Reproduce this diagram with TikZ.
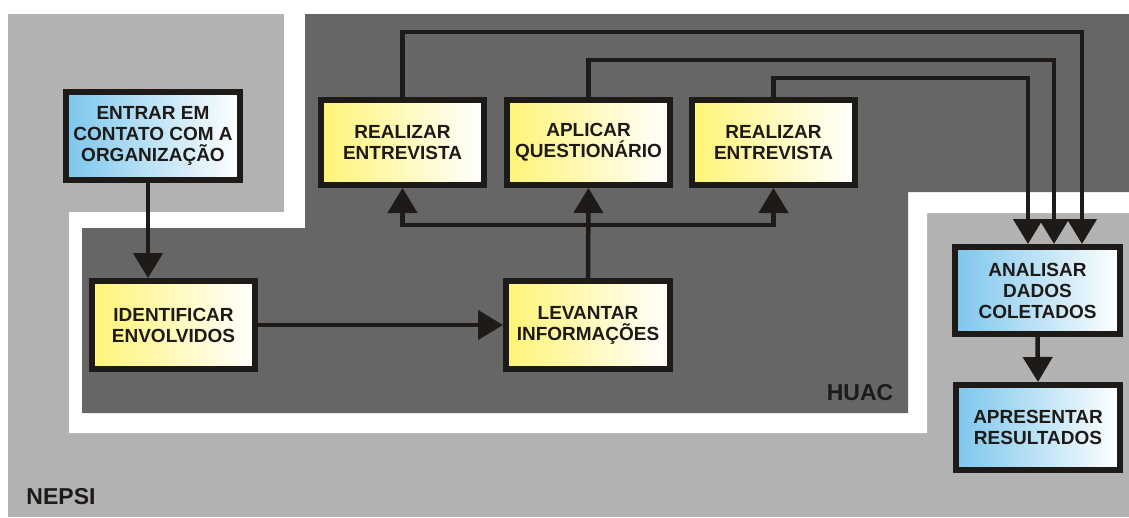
\documentclass[tikz,border=0pt]{standalone}
\usepackage{fontspec}
\setmainfont{Liberation Sans}
\usetikzlibrary{arrows.meta}

\definecolor{ink}{HTML}{1E1A18}
\definecolor{outerzone}{HTML}{B2B2B2}
\definecolor{innerzone}{HTML}{666666}
\definecolor{yel}{HTML}{FFF476}
\definecolor{blu}{HTML}{7CC6EC}

\newcommand{\boxfont}{\fontsize{19}{21}\selectfont\bfseries}
\newcommand{\zonefont}{\fontsize{23}{25}\selectfont\bfseries}

\tikzset{
  box/.style={draw=ink, line width=6pt, minimum width=163pt, minimum height=86pt,
    align=center, inner sep=0pt, font=\boxfont, text=ink},
  ybox/.style={box, left color=yel, right color=white},
  bbox/.style={box, left color=blu, right color=white},
  link/.style={draw=ink, line width=4.5pt, line join=miter},
  arr/.style={link, -{Triangle[length=25pt,width=29pt]}},
  zonelabel/.style={font=\zonefont, text=ink, inner sep=0pt},
}

\begin{document}
\begin{tikzpicture}[x=1pt,y=-1pt]
  \useasboundingbox (0,0) rectangle (1129,517);
  \fill[white] (0,0) rectangle (1129,517);

  % NEPSI zone
  \fill[outerzone] (8,14) rectangle (1129,517);
  % white margin around the HUAC zone
  \fill[white] (284,14) -- (1129,14) -- (1129,213) -- (927,213) -- (927,433)
    -- (69,433) -- (69,212) -- (284,212) -- cycle;
  % HUAC zone
  \fill[innerzone] (305,14) -- (1129,14) -- (1129,192) -- (908,192) -- (908,413)
    -- (82,413) -- (82,228) -- (305,228) -- cycle;

  \node[zonelabel] (huac) at (860,393) {HUAC};
  \node[zonelabel] (nepsi) at (61,497) {NEPSI};

  % process steps
  \node[bbox, minimum width=174pt, minimum height=88pt] (entrar) at (153,136)
    {ENTRAR EM\\CONTATO COM A\\ORGANIZAÇÃO};
  \node[ybox, minimum height=85pt] (r1) at (402.5,142.5) {REALIZAR\\ENTREVISTA};
  \node[ybox, minimum height=85pt] (ap) at (588.5,142.5) {APLICAR\\QUESTIONÁRIO};
  \node[ybox, minimum height=85pt] (r2) at (773.5,142.5) {REALIZAR\\ENTREVISTA};
  \node[ybox, minimum height=88pt] (ident) at (173.5,325) {IDENTIFICAR\\ENVOLVIDOS};
  \node[ybox, minimum width=164pt, minimum height=88pt] (lev) at (588,325)
    {LEVANTAR\\INFORMAÇÕES};
  \node[bbox, minimum width=165pt, minimum height=87pt] (an) at (1037.5,290.5)
    {ANALISAR\\DADOS\\COLETADOS};
  \node[bbox, minimum width=164pt, minimum height=85pt] (apr) at (1038,427.5)
    {APRESENTAR\\RESULTADOS};

  % routing points
  \coordinate (ax) at (148,0);
  \coordinate (j) at (588,225);
  \coordinate (t1) at (1082,32);
  \coordinate (t2) at (1054,60);
  \coordinate (t3) at (1028,78);

  % connectors
  \draw[arr] (entrar.south -| ax) -- (ident.north -| ax);
  \draw[arr] (ident.east) -- (lev.west);
  \draw[arr] (lev.north) -- (ap.south);
  \draw[arr] (lev.north |- j) -| (r1.south);
  \draw[arr] (lev.north |- j) -| (r2.south);
  \draw[arr] (r1.north) |- (t1) -- (t1 |- an.north);
  \draw[arr] (ap.north) |- (t2) -- (t2 |- an.north);
  \draw[arr] (r2.north) |- (t3) -- (t3 |- an.north);
  \draw[arr] (an.south) -- (apr.north);
\end{tikzpicture}
\end{document}
